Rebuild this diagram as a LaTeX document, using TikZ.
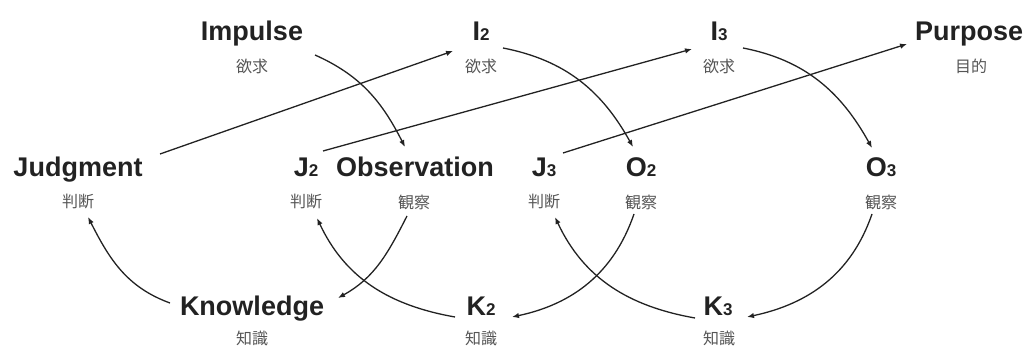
\documentclass[tikz,border=0pt]{standalone}
\usepackage{fontspec}
\setmainfont{Liberation Sans}
\newfontfamily\cjk{Noto Sans CJK JP}
\usetikzlibrary{arrows.meta}
\definecolor{ink}{HTML}{222222}
\definecolor{subgray}{HTML}{555555}
\newcommand{\sbs}[1]{{\fontsize{17}{17}\selectfont #1}}
\begin{document}
\begin{tikzpicture}[x=1pt,y=1pt,
  mainlbl/.style={font=\fontsize{27}{30}\selectfont\bfseries, text=ink, inner sep=0pt, anchor=base},
  sublbl/.style={font=\cjk\fontsize{16}{18}\selectfont, text=subgray, inner sep=0pt},
  conn/.style={draw=ink, line width=1.3pt, -{Latex[length=7pt,width=5.5pt]}}]
\useasboundingbox (0,0) rectangle (1030,-347);
% top row
\node[mainlbl] (imp) at (252,-41) {Impulse};
\node[sublbl] (imps) at (252,-66) {欲求};
\node[mainlbl] (i2) at (481,-41) {I\sbs{2}};
\node[sublbl] (i2s) at (481,-66) {欲求};
\node[mainlbl] (i3) at (719,-41) {I\sbs{3}};
\node[sublbl] (i3s) at (719,-66) {欲求};
\node[mainlbl] (pur) at (969,-41) {Purpose};
\node[sublbl] (purs) at (971,-66) {目的};
% middle row
\node[mainlbl] (jud) at (78,-177) {Judgment};
\node[sublbl] (juds) at (78,-202) {判断};
\node[mainlbl] (j2) at (306,-177) {J\sbs{2}};
\node[sublbl] (j2s) at (306,-202) {判断};
\node[mainlbl] (obs) at (415,-177) {Observation};
\node[sublbl] (obss) at (414,-202) {観察};
\node[mainlbl] (j3) at (544,-177) {J\sbs{3}};
\node[sublbl] (j3s) at (544,-202) {判断};
\node[mainlbl] (o2) at (641,-177) {O\sbs{2}};
\node[sublbl] (o2s) at (641,-202) {観察};
\node[mainlbl] (o3) at (881,-177) {O\sbs{3}};
\node[sublbl] (o3s) at (881,-202) {観察};
% bottom row
\node[mainlbl] (kno) at (252,-315) {Knowledge};
\node[sublbl] (knos) at (252,-338) {知識};
\node[mainlbl] (k2) at (481,-315) {K\sbs{2}};
\node[sublbl] (k2s) at (481,-338) {知識};
\node[mainlbl] (k3) at (718,-315) {K\sbs{3}};
\node[sublbl] (k3s) at (719,-338) {知識};
% straight connectors
\draw[conn] ([shift={(82,23)}]jud.base) -- ([shift={(-28,-10)}]i2.base);
\draw[conn] ([shift={(17,26)}]j2.base) -- ([shift={(-27,-8)}]i3.base);
\draw[conn] ([shift={(19,24)}]j3.base) -- ([shift={(-62,-3)}]pur.base);
% curved connectors, top to middle
\draw[conn] ([shift={(63,-14)}]imp.base) to[out=-24,in=117] ([shift={(-10,30)}]obs.base);
\draw[conn] ([shift={(22,-7)}]i2.base) to[out=-11,in=119] ([shift={(-8,30)}]o2.base);
\draw[conn] ([shift={(24,-7)}]i3.base) to[out=-11,in=119] ([shift={(-9,29)}]o3.base);
% middle to bottom
\draw[conn] ([shift={(-7,-14)}]obss.center) to[out=243,in=29] ([shift={(86,17)}]kno.base);
\draw[conn] ([shift={(-7,-12)}]o2s.center) to[out=251,in=12] ([shift={(31,-2)}]k2.base);
\draw[conn] ([shift={(-9,-12)}]o3s.center) to[out=251,in=12] ([shift={(29,-2)}]k3.base);
% bottom to middle
\draw[conn] ([shift={(-82,12)}]kno.base) to[out=160,in=-63] ([shift={(10,-15)}]juds.center);
\draw[conn] ([shift={(-26,-2)}]k2.base) to[out=170,in=-65] ([shift={(11,-16)}]j2s.center);
\draw[conn] ([shift={(-23,-3)}]k3.base) to[out=170,in=-65] ([shift={(11,-15)}]j3s.center);
\end{tikzpicture}
\end{document}
